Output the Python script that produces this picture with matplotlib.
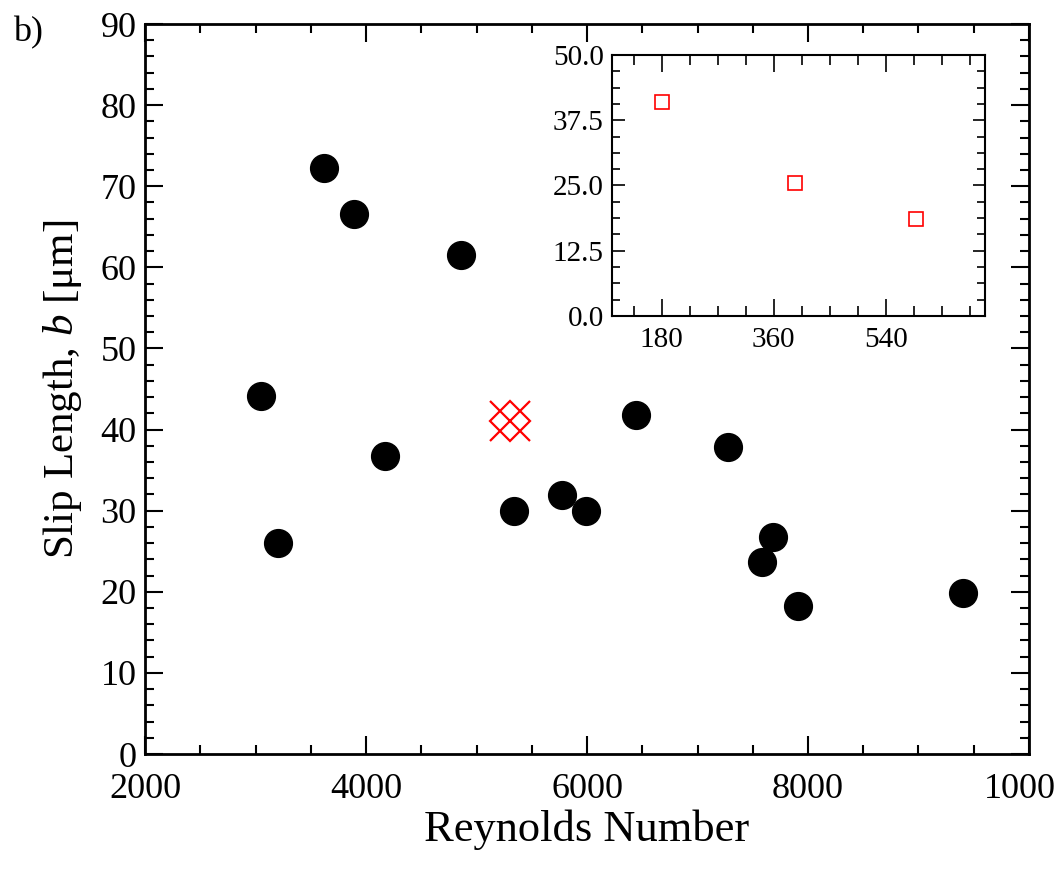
import numpy as np
import matplotlib.pyplot as plt
from matplotlib.ticker import MultipleLocator
from matplotlib.transforms import ScaledTranslation

plt.rcParams['font.family'] = ['Liberation Serif', 'DejaVu Serif']
plt.rcParams['mathtext.fontset'] = 'custom'
plt.rcParams['mathtext.it'] = 'Liberation Serif:italic'
plt.rcParams['mathtext.rm'] = 'Liberation Serif'

# main data: slip length vs Reynolds number
re_vals = [3050, 3200, 3620, 3890, 4170, 4860, 5340, 5770, 5990, 6440, 7280, 7580, 7680, 7910, 9400]
slip_vals = [44.2, 26.0, 72.3, 66.6, 36.7, 61.5, 30.0, 31.9, 30.0, 41.8, 37.9, 23.7, 26.7, 18.2, 19.8]
# red marker (average)
re_avg = [5300]
slip_avg = [41.0]
# inset data
inset_x = [180, 394, 589]
inset_y = [41.0, 25.4, 18.5]

xticks_main = [2000, 4000, 6000, 8000, 10000]
xlabels_main = ['2000', '4000', '6000', '8000', '1000']
inset_yticks = [0.0, 12.5, 25.0, 37.5, 50.0]

fig = plt.figure(figsize=(10.64, 8.71), dpi=100)
ax = fig.add_axes([0.1363, 0.1343, 0.8308, 0.8381])

ax.plot(re_vals, slip_vals, 'o', color='black', markersize=20, linestyle='none')
ax.plot(re_avg, slip_avg, 'x', color='red', markersize=29, markeredgewidth=1.6)
ax.plot(re_avg, slip_avg, 'D', color='red', markerfacecolor='none', markersize=20.5, markeredgewidth=1.6)

ax.set_xlim(2000, 10000)
ax.set_ylim(0, 90)
ax.set_xticks(xticks_main)
ax.set_xticklabels(xlabels_main)
ax.xaxis.set_minor_locator(MultipleLocator(500))
ax.yaxis.set_major_locator(MultipleLocator(10))
ax.yaxis.set_minor_locator(MultipleLocator(2))
ax.tick_params(which='both', direction='in', top=True, right=True, width=1.5)
ax.tick_params(which='major', length=13, labelsize=26)
ax.tick_params(axis='x', which='major', pad=14)
ax.tick_params(axis='y', which='major', pad=6)
ax.tick_params(which='minor', length=6.5)
for sp in ax.spines.values():
    sp.set_linewidth(2)

# shift the clipped last label like in the original
last = ax.get_xticklabels()[-1]
last.set_transform(last.get_transform() + ScaledTranslation(-0.09, 0, fig.dpi_scale_trans))

ax.set_xlabel('Reynolds Number', fontsize=32, labelpad=2)
ax.set_ylabel('Slip Length, $b$ [μm]', fontsize=31, labelpad=12)

fig.text(0.012, 0.952, 'b)', fontsize=26)

# inset
axi = fig.add_axes([0.5752, 0.6372, 0.3506, 0.2997])
axi.plot(inset_x, inset_y, 's', color='red', markerfacecolor='white', markersize=9.5, markeredgewidth=1.2)
axi.set_xlim(100, 700)
axi.set_ylim(0, 50)
axi.xaxis.set_major_locator(MultipleLocator(180))
axi.xaxis.set_minor_locator(MultipleLocator(45))
axi.set_yticks(inset_yticks)
axi.set_yticklabels(['%.1f' % v for v in inset_yticks])
axi.yaxis.set_minor_locator(MultipleLocator(3.125))
axi.tick_params(which='both', direction='in', top=True, right=True, width=1.2, labelsize=21)
axi.tick_params(axis='x', which='major', length=12, pad=8)
axi.tick_params(axis='x', which='minor', length=7)
axi.tick_params(axis='y', which='major', length=9, pad=6)
axi.tick_params(axis='y', which='minor', length=6)
for sp in axi.spines.values():
    sp.set_linewidth(1.5)

fig.savefig('out.png', dpi=100)
